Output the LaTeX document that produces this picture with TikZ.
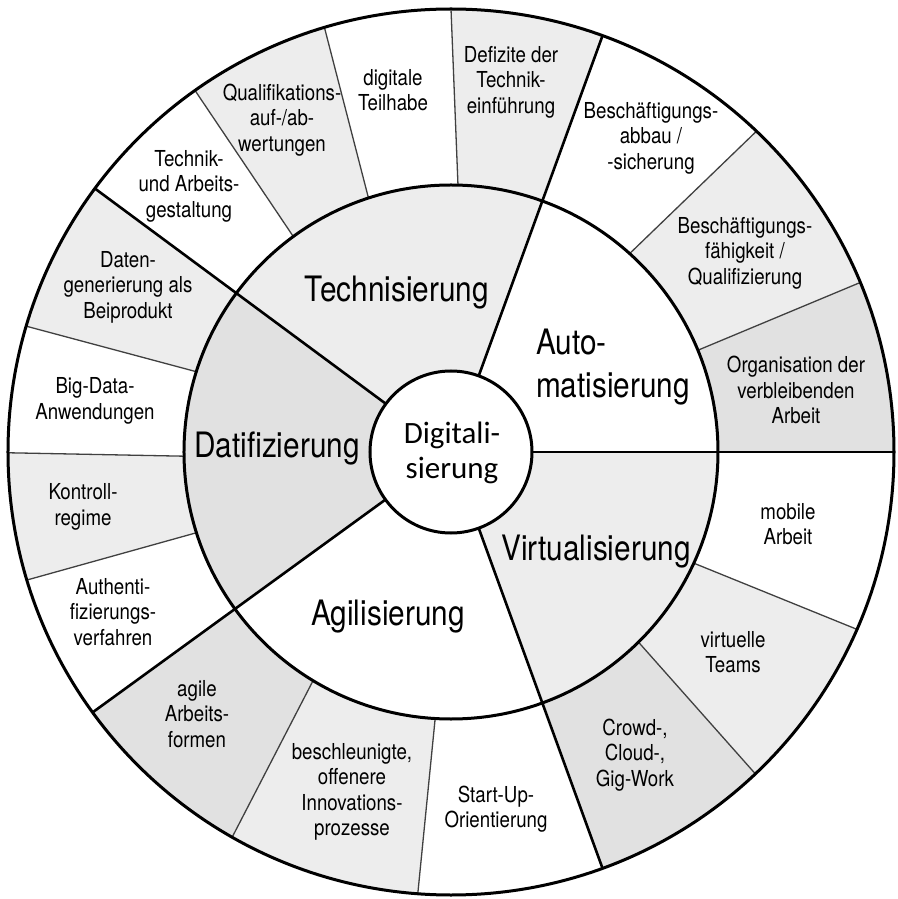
\documentclass[tikz,border=0pt]{standalone}
\usepackage{fontspec}
\newfontfamily\ringfont[FakeStretch=0.85]{TeX Gyre Heros}
\newfontfamily\corefont{Carlito}
\usetikzlibrary{positioning}

\definecolor{lightgrey}{RGB}{237,237,237}
\definecolor{midgrey}{RGB}{225,225,225}

\tikzstyle{ring} = [line width=3pt]
\tikzstyle{divider} = [line width=2.6pt]
\tikzstyle{subdivider} = [line width=1.3pt, draw=black!75]
\tikzstyle{topic} = [align=center, font=\ringfont\fontsize{22}{25.5}\selectfont]
\tikzstyle{trend} = [align=center, inner sep=0pt, font=\ringfont\fontsize{35}{43}\selectfont]
\tikzstyle{core} = [align=center, font=\corefont\fontsize{31}{35}\selectfont]

% middle ring part: fill, start angle, end angle
\newcommand{\trendpart}[3]{\fill[#1] (0,0) -- (#2:267pt) arc[start angle=#2, end angle=#3, radius=267pt] -- cycle;}
% outer ring part: fill, start angle (inside, outside), end angle (inside, outside)
\newcommand{\topicpart}[5]{\fill[#1] (#2:267pt) -- (#3:443pt) arc[start angle=#3, end angle=#5, radius=443pt] -- (#4:267pt) arc[start angle=#4, end angle=#2, radius=267pt] -- cycle;}

\begin{document}
\begin{tikzpicture}[x=1pt, y=1pt]
\useasboundingbox (-451,-447) rectangle (446,452);

% middle ring:
\trendpart{lightgrey}{70}{143.5}
\trendpart{midgrey}{143.5}{216}
\trendpart{lightgrey}{-70}{0}

% outer ring:
\topicpart{midgrey}{0}{0}{22.4}{22.5}
\topicpart{lightgrey}{22.4}{22.5}{48}{46.4}
\topicpart{lightgrey}{70}{70}{88.5}{90}
\topicpart{lightgrey}{108}{106.6}{126.2}{125.3}
\topicpart{lightgrey}{143.5}{143.5}{162.5}{163.5}
\topicpart{lightgrey}{180.9}{180.1}{197.6}{196.8}
\topicpart{midgrey}{216}{216}{238.9}{240.4}
\topicpart{lightgrey}{238.9}{240.4}{266.6}{265.7}
\topicpart{midgrey}{-70}{-70}{-45.4}{-46.6}
\topicpart{lightgrey}{-45.4}{-46.6}{-24.6}{-23.6}

% thin lines between topics:
\draw[subdivider] (22.4:267pt) -- (22.5:443pt);
\draw[subdivider] (48:267pt) -- (46.4:443pt);
\draw[subdivider] (88.5:267pt) -- (90:443pt);
\draw[subdivider] (108:267pt) -- (106.6:443pt);
\draw[subdivider] (126.2:267pt) -- (125.3:443pt);
\draw[subdivider] (162.5:267pt) -- (163.5:443pt);
\draw[subdivider] (180.9:267pt) -- (180.1:443pt);
\draw[subdivider] (197.6:267pt) -- (196.8:443pt);
\draw[subdivider] (238.9:267pt) -- (240.4:443pt);
\draw[subdivider] (266.6:267pt) -- (265.7:443pt);
\draw[subdivider] (-45.4:267pt) -- (-46.6:443pt);
\draw[subdivider] (-24.6:267pt) -- (-23.6:443pt);

% thick lines between trends:
\draw[divider] (0:81pt) -- (0:443pt);
\draw[divider] (70:81pt) -- (70:443pt);
\draw[divider] (143.5:81pt) -- (143.5:443pt);
\draw[divider] (216:81pt) -- (216:443pt);
\draw[divider] (-70:81pt) -- (-70:443pt);

% rings:
\draw[ring] (0,0) circle[radius=443pt];
\draw[ring] (0,0) circle[radius=267pt];
\draw[ring, fill=white] (0,0) circle[radius=81pt];

% core:
\node(digi)[core] at (1,-1) {Digitali-\\sierung};

% trends:
\node(tech)[trend] at (-54,159) {Technisierung};
\node(auto)[trend, align=left, anchor=west] at (85,85) {Auto-\\matisierung};
\node(virt)[trend] at (145,-100) {Virtualisierung};
\node(agil)[trend] at (-63,-165) {Agilisierung};
\node(dati)[trend] at (-174,3) {Datifizierung};

% Technisierung topics:
\node(defizite)[topic] at (60,370) {Defizite der\\Technik-\\einführung};
\node(teilhabe)[topic] at (-58,362) {digitale\\Teilhabe};
\node(quali)[topic] at (-169,332) {Qualifikations-\\auf-/ab-\\wertungen};
\node(gestaltung)[topic] at (-262,266) {Technik-\\und Arbeits-\\gestaltung};

% Datifizierung topics:
\node(daten)[topic] at (-323,165) {Daten-\\generierung als\\Beiprodukt};
\node(bigdata)[topic] at (-356,51) {Big-Data-\\Anwendungen};
\node(kontrolle)[topic] at (-368,-55) {Kontroll-\\regime};
\node(authent)[topic] at (-338,-160) {Authenti-\\fizierungs-\\verfahren};

% Agilisierung topics:
\node(agile)[topic] at (-254,-262) {agile\\Arbeits-\\formen};
\node(innovation)[topic] at (-99,-340) {beschleunigte,\\offenere\\Innovations-\\prozesse};
\node(startup)[topic] at (45,-357) {Start-Up-\\Orientierung};

% Virtualisierung topics:
\node(crowd)[topic] at (184,-303) {Crowd-,\\Cloud-,\\Gig-Work};
\node(teams)[topic] at (282,-200) {virtuelle\\Teams};
\node(mobil)[topic] at (337,-72) {mobile\\Arbeit};

% Automatisierung topics:
\node(organisation)[topic] at (345,62) {Organisation der\\verbleibenden\\Arbeit};
\node(faehigkeit)[topic] at (294,199) {Beschäftigungs-\\fähigkeit /\\Qualifizierung};
\node(abbau)[topic] at (200,314) {Beschäftigungs-\\abbau /\\-sicherung};

\end{tikzpicture}
\end{document}
